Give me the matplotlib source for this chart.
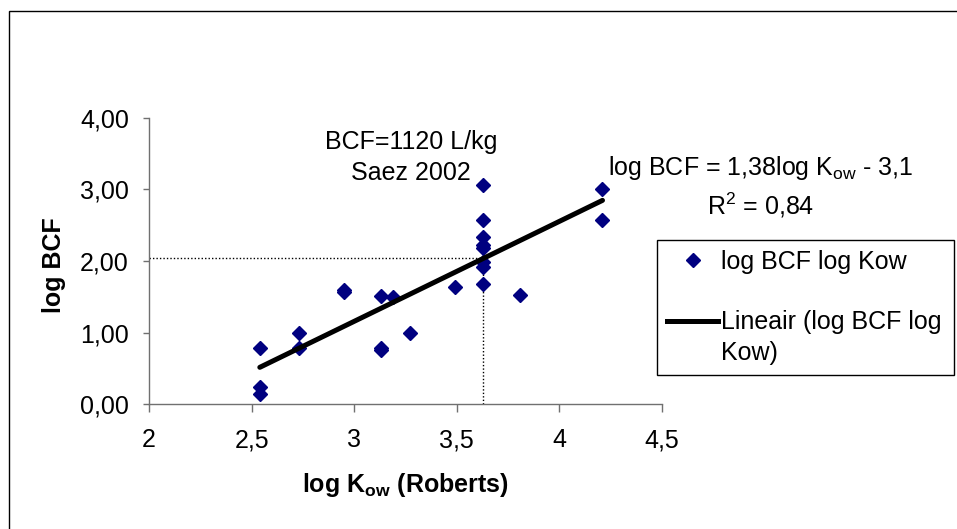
import numpy as np
import matplotlib
matplotlib.use("Agg")
import matplotlib.pyplot as plt
from matplotlib.lines import Line2D
from matplotlib.patches import Rectangle
from matplotlib.ticker import FuncFormatter

plt.rcParams['font.family'] = ['Liberation Sans', 'DejaVu Sans']
plt.rcParams['mathtext.fontset'] = 'custom'
plt.rcParams['mathtext.rm'] = 'Liberation Sans'
plt.rcParams['mathtext.bf'] = 'Liberation Sans:bold'
plt.rcParams['mathtext.default'] = 'regular'

# data
log_kow = [2.54, 2.54, 2.54, 2.73, 2.73, 2.95, 2.95, 3.13, 3.13, 3.13, 3.19,
           3.27, 3.49, 3.63, 3.63, 3.63, 3.63, 3.63, 3.63, 3.63, 3.63, 3.81,
           4.21, 4.21]
log_bcf = [0.78, 0.24, 0.14, 1.00, 0.78, 1.60, 1.56, 1.51, 0.78, 0.76, 1.50,
           1.00, 1.63, 3.06, 2.58, 2.34, 2.23, 2.18, 1.99, 1.92, 1.68, 1.53,
           3.00, 2.57]

# reference point (dotted guide lines)
ref_kow = 3.63
ref_bcf = 2.04

x_ticks = [2, 2.5, 3, 3.5, 4, 4.5]
y_ticks = [0, 1, 2, 3, 4]

W, H = 957, 529
fig = plt.figure(figsize=(W / 100, H / 100), dpi=100)
ax = fig.add_axes([149 / W, 1 - 404 / H, (662 - 149) / W, (404 - 118) / H])

fs = 18

# outer chart frame (right and bottom edges fall outside the picture)
fig.patches.append(Rectangle((9 / W, -0.2), 1.2, 1.2 - 11 / H,
                             transform=fig.transFigure, fill=False,
                             edgecolor='black', linewidth=1))

# dotted guide lines
ax.plot([2, ref_kow], [ref_bcf, ref_bcf], color='black', linestyle=(0, (1, 1.5)),
        linewidth=1)
ax.plot([ref_kow, ref_kow], [0, ref_bcf], color='black', linestyle=(0, (1, 1.5)),
        linewidth=1)

ax.plot(log_kow, log_bcf, linestyle='none', marker='D', markersize=7.6,
        color='#000080', zorder=3)

# linear trend line
slope, icpt = np.polyfit(log_kow, log_bcf, 1)
xs = np.array([min(log_kow), max(log_kow)])
ax.plot(xs, slope * xs + icpt, color='black', linewidth=3.6,
        solid_capstyle='round', zorder=4)

ax.set_xlim(2, 4.5)
ax.set_ylim(0, 4)
ax.set_xticks(x_ticks)
ax.set_yticks(y_ticks)
ax.xaxis.set_major_formatter(FuncFormatter(lambda v, p: ('%g' % v).replace('.', ',')))
ax.yaxis.set_major_formatter(FuncFormatter(lambda v, p: ('%.2f' % v).replace('.', ',')))

for s in ['top', 'right']:
    ax.spines[s].set_visible(False)
for s in ['left', 'bottom']:
    ax.spines[s].set_color('#707070')
    ax.spines[s].set_linewidth(1)
ax.tick_params(axis='y', direction='out', length=4.5, width=1, color='#707070',
               labelsize=fs, pad=10)
ax.tick_params(axis='x', direction='out', length=5.5, width=1, color='#707070',
               labelsize=fs, pad=12)

ax.set_xlabel(r'log K$_\mathbf{ow}$ (Roberts)', fontsize=fs, fontweight='bold')
ax.xaxis.label.set_va('center')
ax.xaxis.set_label_coords(0.5, -(485 - 404) / 286)
ax.set_ylabel('log BCF', fontsize=fs, fontweight='bold')
ax.yaxis.label.set_va('center')
ax.yaxis.set_label_coords(-(149 - 54) / 513, (404 - 265) / 286)

# annotations
ax.text(3.277, 3.66, 'BCF=1120 L/kg', fontsize=fs, ha='center', va='center')
ax.text(3.277, 3.23, 'Saez 2002', fontsize=fs, ha='center', va='center')
ax.text(4.98, 3.30, r'log BCF = 1,38log K$_{ow}$ - 3,1', fontsize=fs,
        ha='center', va='center')
ax.text(4.98, 2.78, r'R$^2$ = 0,84', fontsize=fs, ha='center', va='center')

# legend
handles = [Line2D([], [], linestyle='none', marker='D', markersize=7.6,
                  color='#000080'),
           Line2D([], [], color='none'),
           Line2D([], [], color='black', linewidth=3.6),
           Line2D([], [], color='none')]
labels = ['log BCF log Kow', '', 'Lineair (log BCF log', 'Kow)']
leg = ax.legend(handles, labels, loc='upper left',
                bbox_to_anchor=(657 / W, 1 - 374 / H, (954 - 657) / W, (374 - 240) / H),
                bbox_transform=fig.transFigure, mode='expand', borderaxespad=0,
                fontsize=fs, frameon=True, fancybox=False, framealpha=1,
                edgecolor='black', handlelength=2.05, handletextpad=0.12,
                borderpad=0.4, labelspacing=0.25)
leg.get_frame().set_linewidth(1)

fig.savefig('out.png', dpi=100)
